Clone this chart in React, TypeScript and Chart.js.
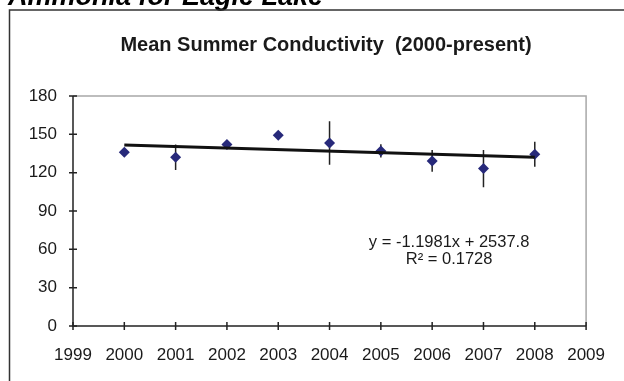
import React, { useEffect, useRef } from 'react';
import { Chart, registerables } from 'chart.js';

Chart.register(...registerables);

const pageHeading = 'Ammonia for Eagle Lake';
const chartTitle = 'Mean Summer Conductivity  (2000-present)';
const years = [2000, 2001, 2002, 2003, 2004, 2005, 2006, 2007, 2008];
const meanConductivity = [136, 132, 142, 149.2, 143.2, 137, 129.2, 123.2, 134.4];
const errorAmount = [2, 10, 2, 2, 17, 5.2, 8.5, 14.6, 9.7];
const trendYears = [2000, 2008];
const trendValues = [141.6, 132.0];
const xTicks = [1999, 2000, 2001, 2002, 2003, 2004, 2005, 2006, 2007, 2008, 2009];
const yTicks = [0, 30, 60, 90, 120, 150, 180];
const equationLines = ['y = -1.1981x + 2537.8', 'R\u00B2 = 0.1728'];

const FONT = '"Liberation Sans", Arial, sans-serif';

const decorPlugin = {
  id: 'decor',
  beforeDraw(chart: any) {
    const { ctx, width, height } = chart;
    ctx.save();
    ctx.fillStyle = '#ffffff';
    ctx.fillRect(0, 0, width, height);
    // page heading (cut off at top)
    ctx.fillStyle = '#000';
    ctx.font = `italic bold 27px ${FONT}`;
    ctx.textBaseline = 'alphabetic';
    ctx.textAlign = 'left';
    ctx.fillText(pageHeading, 8, 5);
    // outer chart border
    ctx.strokeStyle = '#333';
    ctx.lineWidth = 1.5;
    ctx.beginPath();
    ctx.moveTo(9.5, height + 2);
    ctx.lineTo(9.5, 10);
    ctx.lineTo(width + 2, 10);
    ctx.stroke();
    // title
    ctx.fillStyle = '#1a1a1a';
    ctx.font = `bold 20px ${FONT}`;
    ctx.textAlign = 'center';
    ctx.textBaseline = 'middle';
    ctx.fillText(chartTitle, 326, 45);
    ctx.restore();
  },
  beforeDatasetsDraw(chart: any) {
    const { ctx, chartArea } = chart;
    const xs = chart.scales.x;
    const ys = chart.scales.y;
    const { left, right, top, bottom } = chartArea;
    ctx.save();
    // gray frame top/right
    ctx.strokeStyle = '#a8a8a8';
    ctx.lineWidth = 1.5;
    ctx.beginPath();
    ctx.moveTo(left, top);
    ctx.lineTo(right, top);
    ctx.lineTo(right, bottom);
    ctx.stroke();
    // axes
    ctx.strokeStyle = '#222';
    ctx.lineWidth = 1.5;
    ctx.beginPath();
    ctx.moveTo(left, top);
    ctx.lineTo(left, bottom);
    ctx.lineTo(right, bottom);
    ctx.stroke();
    // crossing ticks
    ctx.beginPath();
    xTicks.forEach((v) => {
      const px = xs.getPixelForValue(v);
      ctx.moveTo(px, bottom - 4);
      ctx.lineTo(px, bottom + 4);
    });
    yTicks.forEach((v) => {
      const py = ys.getPixelForValue(v);
      ctx.moveTo(left - 4, py);
      ctx.lineTo(left + 4, py);
    });
    ctx.stroke();
    // error bars
    ctx.strokeStyle = '#222';
    ctx.lineWidth = 1.5;
    ctx.beginPath();
    years.forEach((yr, i) => {
      const px = xs.getPixelForValue(yr);
      ctx.moveTo(px, ys.getPixelForValue(meanConductivity[i] + errorAmount[i]));
      ctx.lineTo(px, ys.getPixelForValue(meanConductivity[i] - errorAmount[i]));
    });
    ctx.stroke();
    ctx.restore();
  },
  afterDatasetsDraw(chart: any) {
    const { ctx, chartArea } = chart;
    const { left, top, right, bottom } = chartArea;
    const cx = left + (right - left) * 0.733;
    const cy = top + (bottom - top) * 0.636;
    ctx.save();
    ctx.fillStyle = '#1a1a1a';
    ctx.font = `16.5px ${FONT}`;
    ctx.textAlign = 'center';
    ctx.textBaseline = 'middle';
    ctx.fillText(equationLines[0], cx, cy);
    ctx.fillText(equationLines[1], cx, cy + 17.5);
    ctx.restore();
  },
};

export default function App() {
  const ref = useRef<HTMLCanvasElement | null>(null);
  useEffect(() => {
    if (!ref.current) return;
    const chart = new Chart(ref.current, {
      type: 'scatter',
      data: {
        datasets: [
          {
            type: 'line',
            label: 'Trend',
            data: trendYears.map((x, i) => ({ x, y: trendValues[i] })),
            borderColor: '#111111',
            borderWidth: 3,
            pointRadius: 0,
            fill: false,
            order: 0,
          },
          {
            label: 'Mean conductivity',
            data: years.map((x, i) => ({ x, y: meanConductivity[i] })),
            pointStyle: 'rectRot',
            pointRadius: 5.5,
            backgroundColor: '#27297a',
            borderColor: '#27297a',
            borderWidth: 0,
            showLine: false,
            order: 1,
          },
        ],
      },
      options: {
        responsive: false,
        animation: false,
        layout: { padding: { left: 0, right: 36, top: 96, bottom: 0 } },
        plugins: { legend: { display: false }, title: { display: false }, tooltip: { enabled: false } },
        scales: {
          x: {
            type: 'linear',
            min: 1999,
            max: 2009,
            afterBuildTicks: (s: any) => {
              s.ticks = xTicks.map((v) => ({ value: v }));
            },
            afterFit: (s: any) => {
              s.height = 55;
            },
            grid: { display: false, drawTicks: false },
            border: { display: false },
            ticks: {
              autoSkip: false,
              maxRotation: 0,
              padding: 19,
              color: '#1a1a1a',
              font: { family: FONT, size: 17 },
              callback: (v: any) => String(v),
            },
          },
          y: {
            type: 'linear',
            min: 0,
            max: 180,
            afterBuildTicks: (s: any) => {
              s.ticks = yTicks.map((v) => ({ value: v }));
            },
            afterFit: (s: any) => {
              s.width = 73;
            },
            grid: { display: false, drawTicks: false },
            border: { display: false },
            ticks: {
              padding: 16,
              color: '#1a1a1a',
              font: { family: FONT, size: 17 },
              callback: (v: any) => String(v),
            },
          },
        },
      },
      plugins: [decorPlugin],
    });
    return () => chart.destroy();
  }, []);
  return (
    <div style={{ position: 'fixed', left: 0, top: 0, width: 624, height: 381 }}>
      <canvas ref={ref} width={624} height={381} />
    </div>
  );
}
